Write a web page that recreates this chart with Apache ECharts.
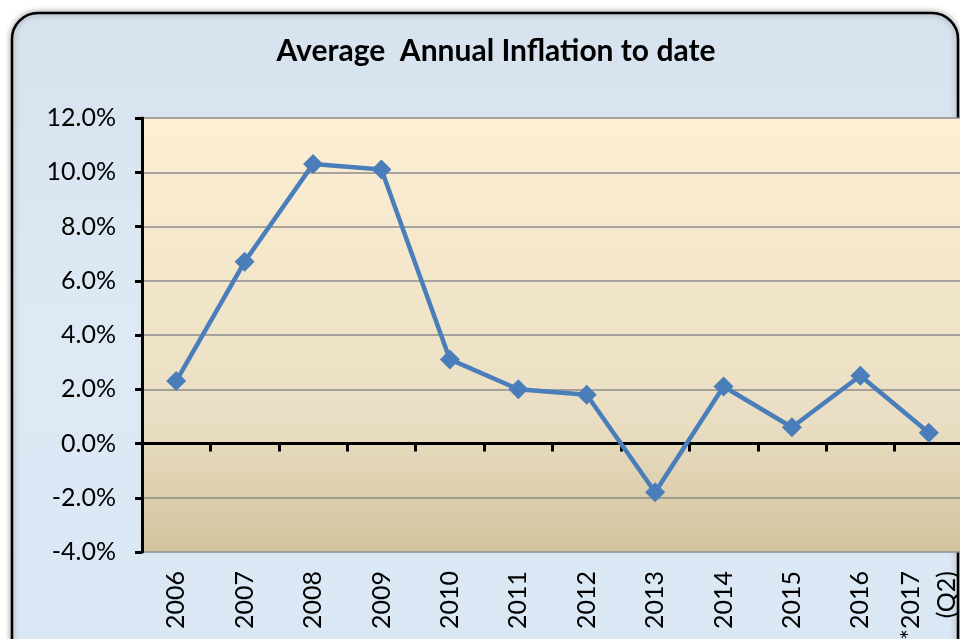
<!DOCTYPE html>
<html><head><meta charset="utf-8">
<script src="https://cdn.jsdelivr.net/npm/echarts@6/dist/echarts.min.js"></script>
<style>html,body{margin:0;padding:0;background:#fff}#c{width:960px;height:639px}</style>
</head><body><div id="c"></div>
<script>
var categories = ['2006','2007','2008','2009','2010','2011','2012','2013','2014','2015','2016','*2017\n(Q2)'];
var inflation = [2.3, 6.7, 10.3, 10.1, 3.1, 2.0, 1.8, -1.8, 2.1, 0.6, 2.5, 0.4];
var yTicks = {min: -4, max: 12, interval: 2};
var titleText = 'Average  Annual Inflation to date';

var chart = echarts.init(document.getElementById('c'));
var font = 'Lato, "Open Sans", sans-serif';
chart.setOption({
  animation: false,
  backgroundColor: '#ffffff',
  graphic: [{
    type: 'rect', z: -10, silent: true,
    shape: {x: 12, y: 13, width: 946, height: 660, r: 26},
    style: {
      fill: new echarts.graphic.LinearGradient(0, 0, 0, 1, [
        {offset: 0, color: '#d6e2ee'}, {offset: 0.5, color: '#dde9f5'}, {offset: 1, color: '#dae7f4'}
      ]),
      stroke: '#000', lineWidth: 2.5,
      shadowBlur: 6, shadowColor: 'rgba(0,0,0,0.35)'
    }
  }],
  title: {
    text: titleText, left: 491, textAlign: 'center', top: 31,
    textStyle: {fontFamily: font, fontWeight: 'bold', fontSize: 30, color: '#000'}
  },
  grid: {
    left: 142, top: 118, width: 821, bottom: 87, containLabel: false,
    outerBoundsMode: 'none',
    show: true, borderWidth: 0,
    backgroundColor: new echarts.graphic.LinearGradient(0, 0, 0, 1, [
      {offset: 0, color: '#fdefd3'}, {offset: 0.7, color: '#e9dec3'}, {offset: 1, color: '#d3c39e'}
    ])
  },
  xAxis: [{
    type: 'category', data: categories, boundaryGap: true,
    axisLine: {onZero: true, lineStyle: {color: '#000', width: 3}},
    axisTick: {show: true, length: 8, lineStyle: {color: '#000', width: 3}},
    axisLabel: {show: false}, splitLine: {show: false}, z: 5
  }, {
    type: 'category', data: categories, boundaryGap: true, position: 'bottom',
    axisLine: {show: false, onZero: false}, axisTick: {show: false},
    axisLabel: {rotate: 90, margin: 19, fontFamily: font, fontSize: 25, color: '#000', lineHeight: 36, interval: 0}
  }],
  yAxis: {
    type: 'value', min: yTicks.min, max: yTicks.max, interval: yTicks.interval,
    axisLine: {show: true, lineStyle: {color: '#000', width: 3}},
    axisTick: {show: true, length: 7, lineStyle: {color: '#000', width: 3}},
    axisLabel: {margin: 26, fontFamily: font, fontSize: 25, color: '#000',
      formatter: function (v) { return v.toFixed(1) + '%'; }},
    splitLine: {show: true, lineStyle: {color: '#8c8c8c', width: 1.5}}
  },
  series: [{
    type: 'line', data: inflation, xAxisIndex: 0,
    lineStyle: {color: '#4a7ebb', width: 4.5},
    itemStyle: {color: '#4a7ebb'},
    symbol: 'diamond', symbolSize: 20, z: 10
  }]
});
</script></body></html>
